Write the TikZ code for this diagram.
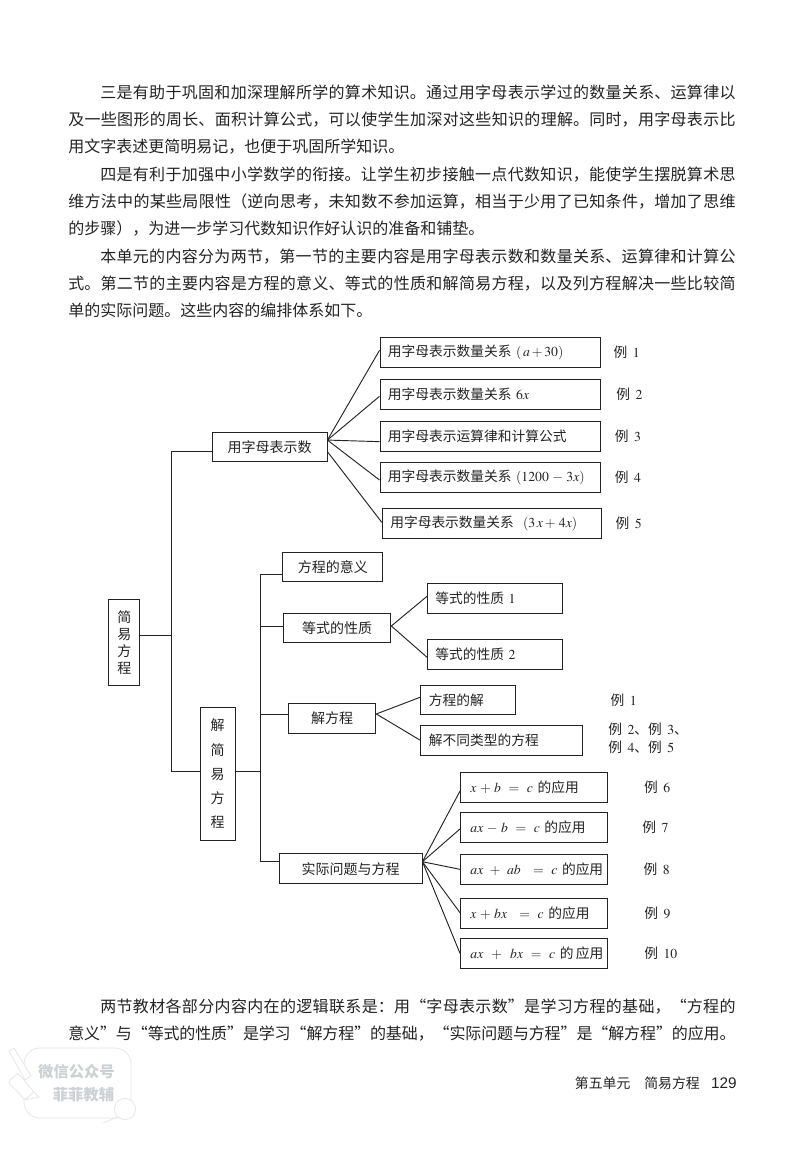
\documentclass[tikz,border=0pt]{standalone}
\usepackage{amsmath,amssymb}
\usepackage{mathptmx}
\usepackage{fontspec}
\usepackage{xcolor}
\usepackage{tikz}
\usetikzlibrary{positioning, calc}
\newfontfamily\cjk{Noto Sans CJK SC}
\newfontfamily\pagefont{Liberation Sans}
\XeTeXlinebreaklocale "zh"
\XeTeXlinebreakskip=0pt plus 1pt minus 0.3pt
\definecolor{inkdark}{RGB}{35,35,35}
\definecolor{markgray}{RGB}{205,208,212}
\definecolor{markline}{RGB}{228,231,233}
\newcommand{\exref}[1]{例\hspace{0.4em}$#1$}
\begin{document}
\begin{tikzpicture}[
    x=0.75pt, y=-0.75pt,
    every node/.style={text=inkdark},
    bodytext/.style={inner sep=0pt, anchor=north west, text width=500.5pt, align=justify, font=\cjk\fontsize{12}{20.25}\selectfont},
    lbox/.style={rectangle, draw=inkdark, line width=0.7pt, minimum height=22.3pt, inner xsep=6pt, inner ysep=0pt, align=left, font=\cjk\fontsize{10.3}{13}\selectfont},
    appbox/.style={lbox, text width=95.3pt, inner xsep=7.5pt},
    cbox/.style={rectangle, draw=inkdark, line width=0.7pt, minimum height=22.3pt, inner xsep=0pt, inner ysep=0pt, align=center, font=\cjk\fontsize{10.5}{13}\selectfont},
    exlabel/.style={inner sep=0pt, align=left, font=\cjk\fontsize{10.3}{13.5}\selectfont},
    link/.style={draw=inkdark, line width=0.7pt},
    markstroke/.style={draw=markline, line width=0.6pt}
]
\useasboundingbox (0,0) rectangle (800,1160);

% body text
\node[bodytext] (par1) at (68,85) {\hspace*{2em}三是有助于巩固和加深理解所学的算术知识。通过用字母表示学过的数量关系、运算律以\linebreak 及一些图形的周长、面积计算公式，可以使学生加深对这些知识的理解。同时，用字母表示比\linebreak 用文字表述更简明易记，也便于巩固所学知识。};
\node[bodytext, below=9.1pt of par1] (par2) {\hspace*{2em}四是有利于加强中小学数学的衔接。让学生初步接触一点代数知识，能使学生摆脱算术思\linebreak 维方法中的某些局限性（逆向思考，未知数不参加运算，相当于少用了已知条件，增加了思维\linebreak 的步骤），为进一步学习代数知识作好认识的准备和铺垫。};
\node[bodytext, below=8.6pt of par2] (par3) {\hspace*{2em}本单元的内容分为两节，第一节的主要内容是用字母表示数和数量关系、运算律和计算公\linebreak 式。第二节的主要内容是方程的意义、等式的性质和解简易方程，以及列方程解决一些比较简\linebreak 单的实际问题。这些内容的编排体系如下。};

% left side of the tree
\node[cbox, minimum width=23.5pt, font=\cjk\fontsize{10.5}{12.75}\selectfont, minimum height=65pt] (root) at (124.25,642.5) {简\\易\\方\\程};
\node[cbox, minimum width=26.5pt, font=\cjk\fontsize{10.5}{18.2}\selectfont, minimum height=100pt] (solve) at (217.7,774) {解\\简\\易\\方\\程};
\node[cbox, minimum width=86.2pt] (letters) at (269.5,447) {用字母表示数};

% letters branch
\node[lbox, text width=153.7pt, anchor=north west] (rel1) at (379.5,337) {用字母表示数量关系 $(\,a+30)$};
\node[lbox, text width=153.7pt, below=8.5pt of rel1] (rel2) {用字母表示数量关系 $6x$};
\node[lbox, text width=153.7pt, below=8.5pt of rel2] (rel3) {用字母表示运算律和计算公式};
\node[lbox, text width=153.7pt, below=7.75pt of rel3] (rel4) {用字母表示数量关系 $(1200\,-\,3x)$};
\node[lbox, text width=152pt, below=11.5pt of rel4, xshift=0.9pt] (rel5) {用字母表示数量关系\ \ $(3\,x+\,4x)$};
\node[exlabel, right=9pt of rel1] (ex1) {\exref{1}};
\node[exlabel, right=11pt of rel2] (ex2) {\exref{2}};
\node[exlabel, right=10pt of rel3] (ex3) {\exref{3}};
\node[exlabel, right=10pt of rel4] (ex4) {\exref{4}};
\node[exlabel, right=10.5pt of rel5] (ex5) {\exref{5}};

% meaning and properties
\node[cbox, minimum width=74.8pt] (mean) at (332.8,567) {方程的意义};
\node[cbox, minimum width=80.8pt] (prop) at (337,628) {等式的性质};
\node[lbox, text width=89.5pt, anchor=north west] (prop1) at (427,583) {等式的性质 $1$};
\node[lbox, text width=89.5pt, below=19.2pt of prop1] (prop2) {等式的性质 $2$};

% solving
\node[cbox, minimum width=65.8pt] (eqn) at (332,718.5) {解方程};
\node[lbox, text width=58.7pt, anchor=north west] (root1) at (420.4,684.5) {方程的解};
\node[lbox, text width=109.3pt, anchor=north west] (types) at (420.4,725) {解不同类型的方程};
\node[exlabel, right=71pt of root1] (ex1b) {\exref{1}};
\node[exlabel, right=18.7pt of types, yshift=1.5pt] (ex2b) {\exref{2}、\exref{3}、\\\exref{4}、\exref{5}};

% applications
\node[cbox, minimum width=107.2pt] (prac) at (350.5,868.7) {实际问题与方程};
\node[appbox, anchor=north west] (app1) at (460,772) {\mbox{$x\,+\,b\ =\ c$ 的应用}};
\node[appbox, below=7pt of app1] (app2) {\mbox{$ax\,-\,b\ =\ c$ 的应用}};
\node[appbox, below=8.5pt of app2] (app3) {\mbox{$ax\ +\ ab\ \ =\ c$ 的应用}};
\node[appbox, below=10.2pt of app3] (app4) {\mbox{$x\,+\,bx\ \ =\ c$ 的应用}};
\node[appbox, below=6.8pt of app4] (app5) {\mbox{$ax\ \,+\ \,bx\ =\ c$ 的\,应用}};
\node[exlabel, right=26.9pt of app1] (ex6) {\exref{6}};
\node[exlabel, right=25.5pt of app2] (ex7) {\exref{7}};
\node[exlabel, right=26.5pt of app3] (ex8) {\exref{8}};
\node[exlabel, right=27pt of app4] (ex9) {\exref{9}};
\node[exlabel, right=27pt of app5] (ex10) {\exref{10}};

% closing text and page foot
\node[bodytext] (par4) at (68,999) {\hspace*{2em}两节教材各部分内容内在的逻辑联系是：用“字母表示数”是学习方程的基础，“方程的\linebreak 意义”与“等式的性质”是学习“解方程”的基础，“实际问题与方程”是“解方程”的应用。};
\node[inner sep=0pt, anchor=east, font=\cjk\fontsize{10.4}{12}\selectfont] (foot) at (700,1083) {第五单元\hspace{1em}简易方程};
\node[inner sep=0pt, anchor=east, font=\pagefont\fontsize{11.5}{14}\selectfont] (folio) at (737,1083) {129};

% connectors
\coordinate (trunk) at (171.5,635.5);
\coordinate (bus) at (260.8,771);
\draw[link] ([yshift=5.25pt]root.east) -- (trunk);
\draw[link] ([yshift=-3pt]letters.west) -| (trunk) |- ([yshift=2.25pt]solve.west);
\draw[link] ([yshift=2.25pt]solve.east) -- (bus);
\draw[link] ([yshift=-5.25pt]mean.west) -| (bus) |- ([yshift=5.25pt]prac.west);
\draw[link] ([yshift=1.5pt]prop.west) -| (bus);
\draw[link] ([yshift=3.4pt]eqn.west) -| (bus);

\draw[link] ([yshift=5.2pt]letters.east) -- ([yshift=1.5pt]rel1.west);
\draw[link] ([yshift=5.2pt]letters.east) -- ([yshift=-1.5pt]rel2.west);
\draw[link] ([yshift=5.2pt]letters.east) -- ([yshift=-4pt]rel3.west);
\draw[link] ([yshift=5.2pt]letters.east) -- ([yshift=-2pt]rel4.west);
\draw[link] ([yshift=-3.5pt]letters.east) -- ([yshift=0.7pt]rel5.west);

\draw[link] ([yshift=1.5pt]prop.east) -- ([yshift=1.5pt]prop1.west);
\draw[link] ([yshift=1.5pt]prop.east) -- ([yshift=-2pt]prop2.west);
\draw[link] ([yshift=3.4pt]eqn.east) -- ([yshift=2pt]root1.west);
\draw[link] ([yshift=3.4pt]eqn.east) -- (types.west);

\draw[link] ([yshift=5.25pt]prac.east) -- ([yshift=-2.8pt]app1.west);
\draw[link] ([yshift=5.25pt]prac.east) -- ([yshift=-1.2pt]app2.west);
\draw[link] ([yshift=5.25pt]prac.east) -- (app3.west);
\draw[link] ([yshift=5.25pt]prac.east) -- ([yshift=0.7pt]app4.west);
\draw[link] ([yshift=5.25pt]prac.east) -- (app5.west);

% watermark
\draw[markstroke, rounded corners=12pt] (24,1048) rectangle (131,1118);
\draw[markstroke, fill=white] (9,1051) -- (14,1048) -- (31,1076) -- (25,1080) -- cycle;
\draw[markstroke, fill=white, rounded corners=2pt] (8,1082) -- (18,1073) -- (34,1092) -- (25,1100) -- cycle;
\draw[markstroke] (34,1092) -- (39,1097) -- (25,1100);
\draw[markstroke, fill=white] (125,1109) circle (8pt);
\draw[markstroke] (117,1117) -- (103,1123);
\node[inner sep=0pt, text=markgray, font=\cjk\bfseries\fontsize{11.5}{13}\selectfont] (mark1) at (76.5,1072) {微信公众号};
\node[inner sep=0pt, text=markgray, font=\cjk\bfseries\fontsize{11.5}{13}\selectfont] (mark2) at (83.5,1095) {菲菲教辅};

\end{tikzpicture}
\end{document}
